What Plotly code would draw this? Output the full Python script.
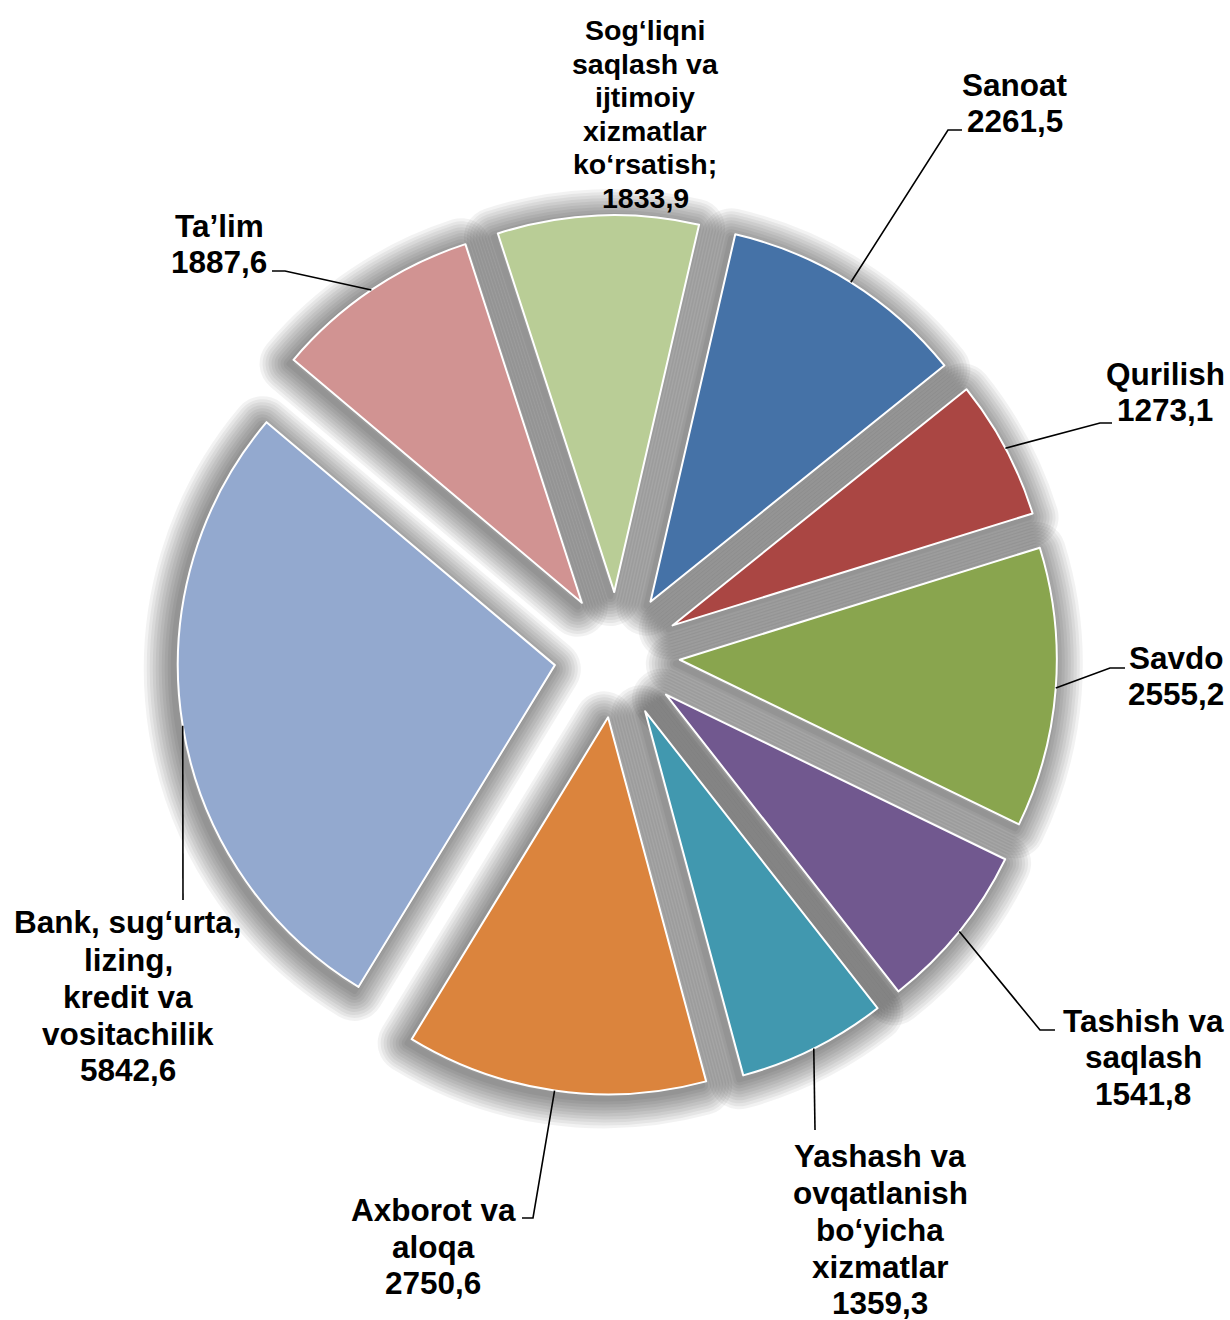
import math
import plotly.graph_objects as go

# ---------------- data ----------------
categories = [
    "Sanoat",
    "Qurilish",
    "Savdo",
    "Tashish va<br>saqlash",
    "Yashash va<br>ovqatlanish<br>bo‘yicha<br>xizmatlar",
    "Axborot va<br>aloqa",
    "Bank, sug‘urta,<br>lizing,<br>kredit va<br>vositachilik",
    "Ta’lim",
    "Sog‘liqni<br>saqlash va<br>ijtimoiy<br>xizmatlar<br>ko‘rsatish;",
]
values = [2261.5, 1273.1, 2555.2, 1541.8, 1359.3, 2750.6, 5842.6, 1887.6, 1833.9]
colors = ["#4572A7", "#AA4643", "#89A54E", "#71588F", "#4198AF",
          "#DB843D", "#93A9CF", "#D19392", "#B9CD96"]

# ---------------- layout constants (pixels) ----------------
W, H = 1230, 1320
CX, CY = 617, 655          # pie centre
R_OUT = 440                 # radius incl. pull
PULL = 0.167
ROT = 13
SHADOW_DX, SHADOW_DY = -4, 4

# label layout: elbow points of leader, text centre x, line centres y, font size
label_layout = [
    dict(elbow=[(948, 130), (962, 130)], tx=1015, ty=[85, 121], fs=31.5),
    dict(elbow=[(1100, 423), (1112, 423)], tx=1165, ty=[374, 410], fs=31.5),
    dict(elbow=[(1110, 668), (1125, 668)], tx=1176, ty=[658, 694], fs=31.5),
    dict(elbow=[(1040, 1030), (1055, 1030)], tx=1143, ty=[1021, 1057, 1094], fs=31.5),
    dict(elbow=[(815, 1130)], tx=880, ty=[1156, 1193, 1230, 1267, 1303], fs=31.5),
    dict(elbow=[(533, 1218), (522, 1218)], tx=433, ty=[1210, 1247, 1283], fs=31.5),
    dict(elbow=[(183, 900)], tx=128, ty=[922, 960, 997, 1034, 1070], fs=31.5),
    dict(elbow=[(285, 271), (272, 271)], tx=219, ty=[226, 262], fs=31.5),
    dict(elbow=None, tx=645, ty=[30, 64, 97, 131, 164, 198], fs=28.5),
]


def px(x):
    return x / W


def py(y):
    return 1 - y / H


def make_domain(cx, cy):
    return dict(x=[px(cx - R_OUT), px(cx + R_OUT)],
                y=[py(cy + R_OUT), py(cy - R_OUT)])


domain = make_domain(CX, CY)
shadow_domain = make_domain(CX + SHADOW_DX, CY + SHADOW_DY)

fig = go.Figure()

# soft shadow layers (translucent strokes of the same exploded pie)
for w in [60, 54, 48, 42, 36, 30, 24, 18, 12, 6]:
    fig.add_trace(go.Pie(
        values=values, labels=categories, sort=False, direction="clockwise",
        rotation=ROT, pull=[PULL] * len(values), domain=shadow_domain,
        marker=dict(colors=["rgba(0,0,0,0)"] * len(values),
                    line=dict(color="rgba(0,0,0,0.05)", width=w)),
        textinfo="none", hoverinfo="skip", showlegend=False,
    ))

# main pie
fig.add_trace(go.Pie(
    values=values, labels=categories, sort=False, direction="clockwise",
    rotation=ROT, pull=[PULL] * len(values), domain=domain,
    marker=dict(colors=colors, line=dict(color="white", width=2)),
    textinfo="none", hoverinfo="label+value", showlegend=False,
))

# labels and leader lines
total = sum(values)
cum = 0.0
shapes = []
annotations = []
for cat, v, lay in zip(categories, values, label_layout):
    mid = math.radians(ROT + 360.0 * (cum + v / 2) / total)
    cum += v
    ax = CX + R_OUT * math.sin(mid)
    ay = CY - R_OUT * math.cos(mid)
    if lay["elbow"]:
        pts = [(ax, ay)] + lay["elbow"]
        path = "M " + " L ".join(f"{px(x):.5f},{py(y):.5f}" for x, y in pts)
        shapes.append(dict(type="path", path=path, xref="paper", yref="paper",
                           line=dict(color="black", width=1.6)))
    lines = cat.split("<br>")
    lines.append(f"{v:.1f}".replace(".", ","))
    for line, y in zip(lines, lay["ty"]):
        annotations.append(dict(
            x=px(lay["tx"]), y=py(y), xref="paper", yref="paper",
            text=line, showarrow=False, xanchor="center", yanchor="middle",
            font=dict(family="Liberation Sans, Arial, sans-serif",
                      size=lay["fs"], color="black", weight="bold"),
        ))

fig.update_layout(
    width=W, height=H,
    margin=dict(l=0, r=0, t=0, b=0),
    paper_bgcolor="white", plot_bgcolor="white",
    shapes=shapes, annotations=annotations,
    showlegend=False,
)

post = ("document.body.style.margin='0';document.body.style.padding='0';"
        "document.querySelectorAll('path.surface').forEach(function(p){"
        "p.style.strokeLinejoin='round';});")
fig.write_html("out.html", post_script=post, config={"displayModeBar": False})
